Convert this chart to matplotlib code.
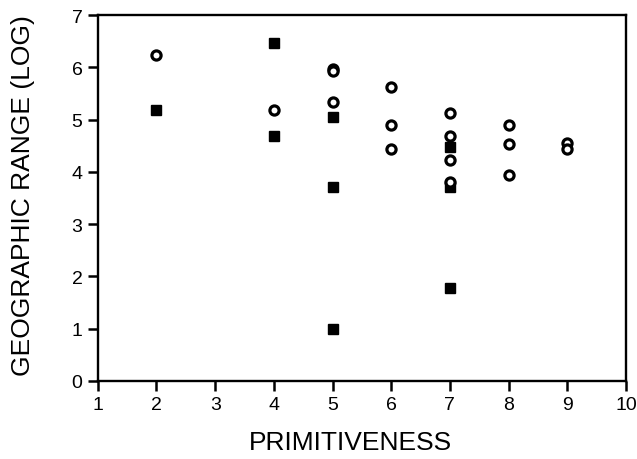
import numpy as np
import matplotlib
matplotlib.use("Agg")
import matplotlib.pyplot as plt

plt.rcParams['font.family'] = ['Liberation Sans', 'DejaVu Sans']

# open circles
circ_x = [2, 4, 5, 5, 5, 6, 6, 6, 7, 7, 7, 7, 8, 8, 8, 9, 9]
circ_y = [6.24, 5.18, 5.97, 5.93, 5.33, 5.63, 4.90, 4.44, 5.13, 4.68, 4.22, 3.80, 4.90, 4.53, 3.94, 4.56, 4.43]

# filled squares
sq_x = [2, 4, 4, 5, 5, 5, 7, 7, 7]
sq_y = [5.18, 6.47, 4.68, 5.04, 3.71, 1.00, 4.48, 3.71, 1.78]

fig = plt.figure(figsize=(6.37, 4.60), dpi=100)
ax = fig.add_axes([0.1535, 0.1696, 0.8292, 0.7956])

ax.plot(sq_x, sq_y, 's', color='black', markersize=7.8, linestyle='none')
ax.plot(circ_x, circ_y, 'o', markerfacecolor='white', markeredgecolor='black',
        markersize=6.6, markeredgewidth=2.3, linestyle='none')

ax.set_xlim(1, 10)
ax.set_ylim(0, 7)
ax.set_xticks(range(1, 11))
ax.set_yticks(range(0, 8))

for s in ax.spines.values():
    s.set_linewidth(1.7)
ax.tick_params(direction='out', length=7.5, width=1.8, labelsize=14, pad=3.5)

ax.set_xlabel('PRIMITIVENESS', fontsize=19)
ax.xaxis.set_label_coords(0.478, -0.135)
ax.set_ylabel('GEOGRAPHIC RANGE (LOG)', fontsize=19)
ax.yaxis.set_label_coords(-0.118, 0.51)

fig.savefig('out.png', dpi=100)
